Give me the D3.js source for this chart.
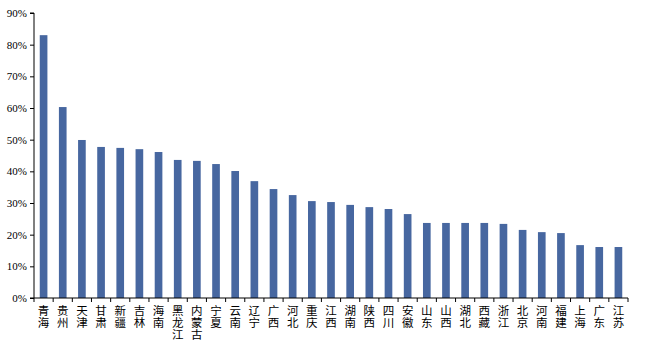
<!DOCTYPE html>
<html lang="zh">
<head>
    <meta charset="utf-8">
    <script src="https://d3js.org/d3.v7.min.js"></script>
    <style>
        body { margin: 0; background: #fff; }
    </style>
</head>
<body>
<div id="chart"></div>
<script>
    // Data
    const provinces = ["青海", "贵州", "天津", "甘肃", "新疆", "吉林", "海南", "黑龙江", "内蒙古", "宁夏",
        "云南", "辽宁", "广西", "河北", "重庆", "江西", "湖南", "陕西", "四川", "安徽",
        "山东", "山西", "湖北", "西藏", "浙江", "北京", "河南", "福建", "上海", "广东", "江苏"];
    const values = [83.0, 60.3, 49.9, 47.7, 47.4, 47.0, 46.1, 43.6, 43.3, 42.3,
        40.1, 36.9, 34.4, 32.5, 30.6, 30.3, 29.4, 28.7, 28.1, 26.5,
        23.7, 23.7, 23.7, 23.7, 23.4, 21.5, 20.8, 20.5, 16.7, 16.1, 16.1];
    const yTicks = [0, 10, 20, 30, 40, 50, 60, 70, 80, 90];

    const W = 652, H = 352;
    const margin = {top: 13, right: 24, bottom: 54, left: 34};
    const width = W - margin.left - margin.right,
        height = H - margin.top - margin.bottom;

    const svg = d3.select("#chart")
        .append("svg")
        .attr("width", W)
        .attr("height", H)
        .append("g")
        .attr("transform", `translate(${margin.left},${margin.top})`);

    const x = d3.scaleBand()
        .domain(provinces)
        .range([0, width])
        .paddingInner(0.6)
        .paddingOuter(0.3);

    const y = d3.scaleLinear()
        .domain([0, 90])
        .range([height, 0]);

    // Bars
    svg.selectAll("rect.bar")
        .data(values)
        .join("rect")
        .attr("class", "bar")
        .attr("x", (d, i) => x(provinces[i]))
        .attr("y", d => y(d))
        .attr("width", x.bandwidth())
        .attr("height", d => height - y(d))
        .attr("fill", "#4767a0");

    // Y axis
    const yAxis = svg.append("g")
        .call(d3.axisLeft(y).tickValues(yTicks).tickFormat(d => d + "%").tickSize(4).tickPadding(3));
    yAxis.select(".domain").attr("stroke", "#000").attr("d", `M-4,${height}H0V0H-4`);
    yAxis.selectAll("text")
        .attr("font-family", "'Liberation Serif', serif")
        .attr("font-size", 11)
        .attr("fill", "#000");

    // X axis: line with ticks at category boundaries
    const xg = svg.append("g").attr("transform", `translate(0,${height})`);
    xg.append("line")
        .attr("x1", 0).attr("x2", width)
        .attr("stroke", "#000");
    const bounds = d3.range(provinces.length + 1).map(i => i * width / provinces.length);
    xg.selectAll("line.tick")
        .data(bounds)
        .join("line")
        .attr("class", "tick")
        .attr("x1", d => d).attr("x2", d => d)
        .attr("y1", 0).attr("y2", 4)
        .attr("stroke", "#000");

    // Vertical category labels, one character per row
    xg.selectAll("text.cat")
        .data(provinces)
        .join("text")
        .attr("class", "cat")
        .attr("x", d => x(d) + x.bandwidth() / 2)
        .attr("y", 7)
        .style("writing-mode", "vertical-rl")
        .style("text-orientation", "upright")
        .style("letter-spacing", "0.5px")
        .attr("font-family", "'Noto Sans CJK SC', sans-serif")
        .attr("font-size", 11.5)
        .attr("fill", "#000")
        .text(d => d);
</script>
</body>
</html>
